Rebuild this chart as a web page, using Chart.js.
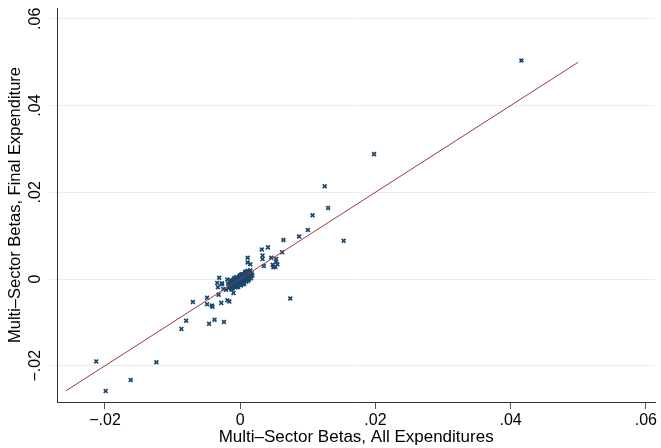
<!DOCTYPE html>
<html>
<head>
<meta charset="utf-8">
<title>Multi-Sector Betas</title>
<script src="https://cdn.jsdelivr.net/npm/chart.js@4.4.1/dist/chart.umd.min.js"></script>
<style>
  html, body { margin: 0; padding: 0; background: #fff; }
  #wrap { width: 661px; height: 448px; }
</style>
</head>
<body>
<div id="wrap"><canvas id="betaChart" width="661" height="448"></canvas></div>
<script>
/* ── Data ─────────────────────────────────────────────────── */
// Multi-sector betas, all expenditures (x) vs final expenditure (y)
const betaAll = [
  -0.0213, -0.0199, -0.0162, -0.0124, -0.0087, -0.0080, -0.0070, -0.0046, -0.0038, -0.0024,
  -0.0049, -0.0049, -0.0042, -0.0041, -0.0028, -0.0019, -0.0016, -0.0032, -0.0010, -0.0033,
  -0.0027, -0.0021, -0.0031, -0.0034, -0.0027, -0.0025, -0.0019,
   0.0011,  0.0011,  0.0015,  0.0032,  0.0041,  0.0033,  0.0033,  0.0046,  0.0053,  0.0048,
   0.0052,  0.0055,  0.0035,  0.0049,  0.0053,  0.0062,  0.0064,  0.0087,  0.0100,  0.0107,
   0.0130,  0.0125,  0.0153,  0.0198,  0.0416,  0.0074,
  // dense cluster near zero
  -0.0016, -0.0015, -0.0014, -0.0013, -0.0012, -0.0012, -0.0011, -0.0010, -0.0010, -0.0009,
  -0.0009, -0.0008, -0.0008, -0.0007, -0.0007, -0.0006, -0.0006, -0.0005, -0.0005, -0.0004,
  -0.0004, -0.0003, -0.0003, -0.0002, -0.0002, -0.0001, -0.0001,  0.0000,  0.0000,  0.0000,
   0.0001,  0.0001,  0.0002,  0.0002,  0.0003,  0.0003,  0.0004,  0.0004,  0.0005,  0.0005,
   0.0006,  0.0006,  0.0007,  0.0007,  0.0008,  0.0008,  0.0009,  0.0009,  0.0010,  0.0010,
   0.0011,  0.0012,  0.0012,  0.0013,  0.0014,  0.0014,  0.0015,  0.0016,  0.0017, -0.0017,
  -0.0011,  0.0002, -0.0004,  0.0011,  0.0016,
  -0.0014, -0.0012, -0.0009, -0.0007, -0.0005, -0.0003, -0.0001,  0.0001,  0.0003,  0.0005,
   0.0007,  0.0009,  0.0011,  0.0013,  0.0015, -0.0013, -0.0008, -0.0004,  0.0000,  0.0004,
   0.0008,  0.0012, -0.0018,  0.0018, -0.0006,  0.0006
];
const betaFinal = [
  -0.0190, -0.0258, -0.0233, -0.0192, -0.0115, -0.0096, -0.0053, -0.0103, -0.0094, -0.0099,
  -0.0043, -0.0058, -0.0061, -0.0064, -0.0055, -0.0049, -0.0052, -0.0036, -0.0032, -0.0019,
  -0.0012, -0.0025,  0.0003, -0.0009, -0.0010, -0.0023, -0.0001,
   0.0049,  0.0038,  0.0034,  0.0068,  0.0073,  0.0054,  0.0046,  0.0049,  0.0046,  0.0033,
   0.0028,  0.0034,  0.0030,  0.0027,  0.0039,  0.0062,  0.0090,  0.0098,  0.0113,  0.0147,
   0.0164,  0.0214,  0.0088,  0.0288,  0.0504, -0.0045,
  -0.0014, -0.0009, -0.0018, -0.0011, -0.0006, -0.0015, -0.0020, -0.0008, -0.0012, -0.0003,
  -0.0016, -0.0010, -0.0006, -0.0013, -0.0002, -0.0008, -0.0017, -0.0004, -0.0011, -0.0007,
   0.0001, -0.0014, -0.0005, -0.0009,  0.0002, -0.0003, -0.0012, -0.0006,  0.0001,  0.0005,
  -0.0002, -0.0010,  0.0003, -0.0005,  0.0008, -0.0001,  0.0004, -0.0007,  0.0001,  0.0010,
   0.0006, -0.0003,  0.0002,  0.0012,  0.0008, -0.0001,  0.0004,  0.0014,  0.0010,  0.0001,
   0.0006,  0.0012,  0.0003,  0.0009,  0.0015,  0.0005,  0.0011,  0.0007,  0.0013, -0.0021,
  -0.0002,  0.0011, -0.0019,  0.0017,  0.0002,
  -0.0004, -0.0022,  0.0002, -0.0019,  0.0004, -0.0018,  0.0007, -0.0015,  0.0011, -0.0009,
   0.0016, -0.0006,  0.0019,  0.0000,  0.0020, -0.0024,  0.0001, -0.0016,  0.0009, -0.0012,
   0.0017, -0.0004, -0.0011,  0.0008,  0.0004, -0.0011
];

// 45-degree reference line
const lineX = [-0.0258, 0.05];

const xTicks = [-0.02, 0, 0.02, 0.04, 0.06];
const xTickLabels = ['\u2212.02', '0', '.02', '.04', '.06'];
const yTicks = [-0.02, 0, 0.02, 0.04, 0.06];
const yTickLabels = ['\u2212.02', '0', '.02', '.04', '.06'];

/* ── Styles ───────────────────────────────────────────────── */
const NAVY   = '#1a476f';
const MAROON = '#983a40';
const GRID   = '#e6eef0';
const FONT   = "'Liberation Sans', Arial, Helvetica, sans-serif";

const points = betaAll.map((x, i) => ({ x, y: betaFinal[i] }));
const linePts = lineX.map(v => ({ x: v, y: v }));

/* y tick labels are rotated (Stata style) – draw them through the y scale */
const rotatedYLabels = {
  id: 'rotatedYLabels',
  afterDraw(chart) {
    const { ctx, scales: { y } } = chart;
    ctx.save();
    ctx.fillStyle = '#000';
    ctx.font = '16px ' + FONT;
    ctx.textAlign = 'center';
    ctx.textBaseline = 'middle';
    yTicks.forEach((v, i) => {
      const py = y.getPixelForValue(v);
      ctx.save();
      ctx.translate(36, py);
      ctx.rotate(-Math.PI / 2);
      ctx.fillText(yTickLabels[i], 0, 0);
      ctx.restore();
    });
    ctx.restore();
  }
};

new Chart(document.getElementById('betaChart').getContext('2d'), {
  type: 'scatter',
  data: {
    datasets: [
      {
        label: 'betas',
        data: points,
        pointStyle: 'crossRot',
        pointRadius: 2.7,
        borderColor: NAVY,
        backgroundColor: NAVY,
        pointBorderWidth: 1.7,
        order: 2
      },
      {
        label: '45 degree',
        data: linePts,
        showLine: true,
        borderColor: MAROON,
        borderWidth: 1,
        pointRadius: 0,
        order: 1
      }
    ]
  },
  options: {
    responsive: false,
    animation: false,
    devicePixelRatio: 1,
    layout: { padding: { top: 8, right: 4, left: 0, bottom: 0 } },
    plugins: { legend: { display: false }, tooltip: { enabled: false } },
    scales: {
      x: {
        type: 'linear',
        min: -0.0271,
        max: 0.0614,
        afterBuildTicks: s => { s.ticks = xTicks.map(v => ({ value: v })); },
        afterFit: s => { s.height = 46; },
        ticks: {
          color: '#000',
          font: { family: FONT, size: 16 },
          padding: 2,
          maxRotation: 0,
          callback: (v, i) => xTickLabels[i]
        },
        grid: { display: true, drawOnChartArea: false, color: '#555', tickLength: 7, tickWidth: 1 },
        border: { color: '#333', width: 1 },
        title: {
          display: true,
          text: 'Multi\u2013Sector Betas, All Expenditures',
          color: '#000',
          font: { family: FONT, size: 17 },
          padding: { top: 0, bottom: 0 }
        }
      },
      y: {
        type: 'linear',
        min: -0.02836,
        max: 0.0625,
        afterBuildTicks: s => { s.ticks = yTicks.map(v => ({ value: v })); },
        afterFit: s => { s.width = 57; },
        ticks: { display: false },
        grid: { color: GRID, lineWidth: 1, tickLength: 8, tickColor: GRID },
        border: { color: '#333', width: 1 },
        title: {
          display: true,
          text: 'Multi\u2013Sector Betas, Final Expenditure',
          color: '#000',
          font: { family: FONT, size: 16.5 },
          padding: { top: 6, bottom: 0 }
        }
      }
    }
  },
  plugins: [rotatedYLabels]
});
</script>
</body>
</html>
